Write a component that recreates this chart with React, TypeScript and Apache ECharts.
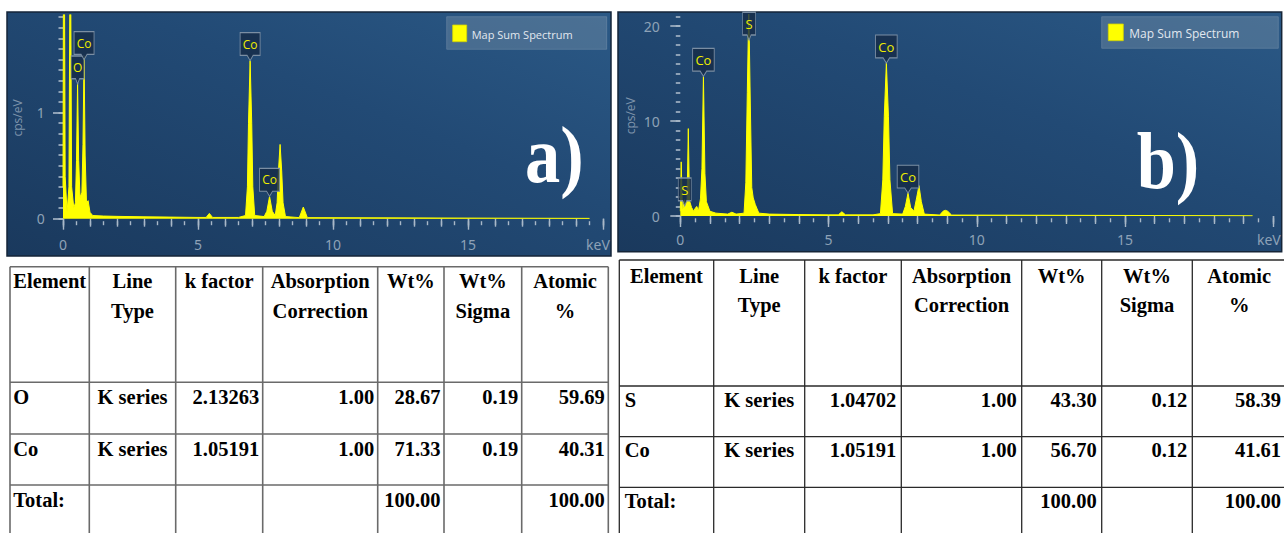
import React, { useEffect, useRef } from "react";
import * as echarts from "echarts";

// ---------- Spectrum (a) ----------
const energyA = [0, 0.03, 0.08, 0.15, 0.22, 0.27, 0.32, 0.4, 0.46, 0.5, 0.54, 0.58, 0.63, 0.7, 0.74, 0.78, 0.82, 0.87, 0.93, 1.0, 1.1, 1.5, 2, 3, 4, 5, 5.3, 5.42, 5.54, 6.5, 6.76, 6.83, 6.87, 6.93, 6.99, 7.03, 7.1, 7.45, 7.55, 7.65, 7.75, 7.86, 7.93, 7.98, 8.04, 8.1, 8.15, 8.24, 8.75, 8.9, 9.05, 12, 16, 19.5];
const countsA = [0.3, 4.0, 0.4, 0.06, 0.3, 3.0, 0.3, 0.1, 0.15, 0.55, 1.28, 0.55, 0.2, 0.25, 0.7, 1.53, 0.6, 0.15, 0.17, 0.06, 0.03, 0.025, 0.022, 0.018, 0.015, 0.012, 0.012, 0.05, 0.012, 0.012, 0.03, 0.3, 0.9, 1.49, 0.9, 0.3, 0.03, 0.02, 0.07, 0.21, 0.07, 0.03, 0.15, 0.45, 0.7, 0.45, 0.15, 0.02, 0.01, 0.11, 0.01, 0.008, 0.005, 0.003];

// ---------- Spectrum (b) ----------
const energyB = [0, 0.03, 0.07, 0.1, 0.14, 0.18, 0.23, 0.27, 0.31, 0.38, 0.45, 0.52, 0.56, 0.61, 0.68, 0.73, 0.78, 0.83, 0.88, 1.0, 1.2, 1.6, 1.74, 1.88, 2.15, 2.21, 2.26, 2.31, 2.36, 2.41, 2.46, 2.53, 2.65, 3, 4, 5, 5.33, 5.45, 5.57, 6.5, 6.75, 6.83, 6.88, 6.95, 7.02, 7.07, 7.16, 7.5, 7.59, 7.68, 7.77, 7.88, 7.97, 8.05, 8.13, 8.23, 8.75, 8.86, 8.94, 9.02, 9.15, 12, 16, 19.3];
const countsB = [0.5, 5.7, 0.8, 0.9, 1.7, 1.1, 1.8, 9.2, 1.6, 0.9, 0.5, 0.9, 1.0, 0.5, 1.8, 5.0, 14.7, 4.5, 1.5, 0.5, 0.3, 0.2, 0.4, 0.2, 0.3, 3.5, 13, 22, 12, 3, 1.9, 1.2, 0.3, 0.2, 0.15, 0.12, 0.12, 0.45, 0.12, 0.12, 0.25, 3.8, 10.5, 16.1, 10.5, 3.8, 0.25, 0.2, 1.0, 2.4, 0.9, 0.5, 1.9, 3.2, 1.5, 0.2, 0.1, 0.5, 0.6, 0.5, 0.1, 0.08, 0.05, 0.02];

// ---------- Peak callouts ----------
const calloutNamesA = ["O", "Co", "Co", "Co"];
const calloutEnergyA = [0.54, 0.78, 6.93, 7.65];
const calloutHeightA = [1.27, 1.5, 1.49, 0.21];

const calloutNamesB = ["S", "Co", "S", "Co", "Co"];
const calloutEnergyB = [0.15, 0.78, 2.32, 6.95, 7.68];
const calloutHeightB = [1.05, 14.7, 18.5, 16.1, 2.4];

// ---------- Axes ----------
const xMax = 20;
const yMaxA = 1.92;
const yMaxB = 21.2;
const yLabelValuesA = [0, 1];
const yLabelValuesB = [0, 10, 20];
const yMinorStepA = 0.1;
const yMinorStepB = 1;
const legendName = "Map Sum Spectrum";
const yAxisTitle = "cps/eV";
const xUnit = "keV";

// ---------- Tables ----------
const tableHeaders = [["Element"], ["Line", "Type"], ["k factor"], ["Absorption", "Correction"], ["Wt%"], ["Wt%", "Sigma"], ["Atomic", "%"]];
const tableRowsA = [
  ["O", "K series", "2.13263", "1.00", "28.67", "0.19", "59.69"],
  ["Co", "K series", "1.05191", "1.00", "71.33", "0.19", "40.31"],
  ["Total:", "", "", "", "100.00", "", "100.00"],
];
const tableRowsB = [
  ["S", "K series", "1.04702", "1.00", "43.30", "0.12", "58.39"],
  ["Co", "K series", "1.05191", "1.00", "56.70", "0.12", "41.61"],
  ["Total:", "", "", "", "100.00", "", "100.00"],
];

const AXIS_FONT = "Noto Sans";
const UI_FONT = "Open Sans";
const SERIF = "Liberation Serif";
const tickColor = "#a9b8c8";
const labelColor = "#8ea2b7";
const CALLOUT = "path://M0,0 L20,0 L20,22 L13,22 L10,27 L7,22 L0,22 Z";

function minorValues(step: number, max: number) {
  const out: number[] = [];
  for (let k = 0; k * step <= max + 1e-9; k++) out.push(Math.round(k * step * 1000) / 1000);
  return out;
}

function xAxes(gridIndex: number, offset: number, margin: number, fontSize: number, unitPad: number) {
  const base = { type: "value", gridIndex, min: 0, max: xMax, position: "bottom", offset, axisLine: { show: false }, splitLine: { show: false } };
  const ls = { color: tickColor, width: 1.4 };
  return [
    {
      ...base, interval: 5,
      axisTick: { show: true, length: 11, lineStyle: ls },
      axisLabel: {
        show: true, margin, color: labelColor, fontSize, fontFamily: AXIS_FONT,
        formatter: (v: number) => (v === xMax ? "{u|" + xUnit + "}" : String(v)),
        rich: { u: { color: labelColor, fontSize, fontFamily: AXIS_FONT, padding: [0, unitPad, 0, 0] } },
      },
    },
    { ...base, interval: 1, axisTick: { show: true, length: 8, lineStyle: ls }, axisLabel: { show: false } },
    { ...base, interval: 0.5, axisTick: { show: true, length: 4, lineStyle: ls }, axisLabel: { show: false } },
  ];
}

function yAxes(gridIndex: number, max: number, majors: number[], minors: number[], offset: number, fontSize: number) {
  const base = { type: "value", gridIndex, min: 0, max, position: "left", offset, axisLine: { show: false }, splitLine: { show: false } };
  const ls = { color: tickColor, width: 1.6 };
  return [
    {
      ...base,
      axisTick: { show: true, length: 10, customValues: majors, lineStyle: ls },
      axisLabel: { show: true, customValues: majors, margin: 12, color: labelColor, fontSize, fontFamily: AXIS_FONT },
    },
    { ...base, axisTick: { show: true, length: 4.5, customValues: minors, lineStyle: ls }, axisLabel: { show: false } },
  ];
}

function callouts(names: string[], energies: number[], heights: number[], wideW: number) {
  return names.map((n, i) => ({ name: n, coord: [energies[i], heights[i]], symbolSize: [n.length > 1 ? wideW : 13, 28] }));
}

function spectrumSeries(xi: number, yi: number, energy: number[], counts: number[], marks: any[], fontSize: number) {
  return {
    type: "line", xAxisIndex: xi, yAxisIndex: yi,
    data: energy.map((e, i) => [e, counts[i]]),
    symbol: "none", clip: true, z: 3,
    lineStyle: { color: "#ffff00", width: 1 },
    areaStyle: { color: "#ffff00", opacity: 1 },
    markPoint: {
      symbol: CALLOUT, symbolOffset: [0, "-50%"],
      itemStyle: { color: "rgba(22,44,72,0.82)", borderColor: "#7b8ea3", borderWidth: 1 },
      label: { show: true, position: "inside", offset: [0, -2.5], formatter: "{b}", color: "#eeee00", fontSize, fontFamily: UI_FONT },
      data: marks,
    },
  };
}

function txt(x: number, y: number, text: string, align: string, style: any, extra: any = {}) {
  return { type: "text", x, y, ...extra, style: { text, align, textAlign: align, verticalAlign: "middle", textVerticalAlign: "middle", ...style } };
}

function tableElements(cfg: any) {
  const els: any[] = [];
  const { cols, rowLines, bottom, headerY1, headerY2, rowY, rows, stroke, lw, fs, padL, padR, centerFirstHeader } = cfg;
  rowLines.forEach((y: number) => els.push({ type: "line", shape: { x1: cols[0], y1: y, x2: cols[cols.length - 1], y2: y }, style: { stroke, lineWidth: lw } }));
  cols.forEach((x: number) => els.push({ type: "line", shape: { x1: x, y1: rowLines[0], x2: x, y2: bottom }, style: { stroke, lineWidth: lw } }));
  const font = { fontSize: fs, fontWeight: "bold", fontFamily: SERIF, fill: "#000" };
  const off = 0.3375 * fs;
  tableHeaders.forEach((lines, c) => {
    const left = c === 0 && !centerFirstHeader;
    const x = left ? cols[0] + padL : (cols[c] + cols[c + 1]) / 2;
    lines.forEach((t, k) => els.push(txt(x, (k === 0 ? headerY1 : headerY2) - off, t, left ? "left" : "center", font)));
  });
  rows.forEach((row: string[], r: number) =>
    row.forEach((t, c) => {
      if (!t) return;
      const align = c === 0 ? "left" : c === 1 ? "center" : "right";
      const x = c === 0 ? cols[0] + padL : c === 1 ? (cols[1] + cols[2]) / 2 : cols[c + 1] - padR;
      els.push(txt(x, rowY[r] - off, t, align, font));
    })
  );
  return els;
}

function panelElements(p: any) {
  const grad = new echarts.graphic.LinearGradient(0, 1, 1, 0, [
    { offset: 0, color: "#1a395d" },
    { offset: 0.6, color: "#224a75" },
    { offset: 1, color: "#2b5986" },
  ]);
  return [
    { type: "rect", z: -10, shape: { x: p.x, y: p.y, width: p.w, height: p.h }, style: { fill: grad, stroke: "#152538", lineWidth: 1.5 } },
    { type: "rect", z: 1, shape: { x: p.lx, y: p.ly, width: p.lw, height: p.lh }, style: { fill: "rgba(120,145,170,0.42)", stroke: "rgba(150,170,190,0.35)", lineWidth: 1 } },
    { type: "rect", z: 2, shape: { x: p.sx, y: p.sy, width: p.sw, height: p.sh }, style: { fill: "#ffff00", stroke: "#d4d400", lineWidth: 0.8 } },
    txt(p.tx, p.ty, legendName, "left", { fill: "#e2e8ef", fontSize: p.fs, fontFamily: UI_FONT }, { z: 2 }),
    txt(p.nx, p.ny, yAxisTitle, "center", { fill: "#7d93ab", fontSize: 12, fontFamily: UI_FONT }, { rotation: Math.PI / 2, z: 2 }),
    txt(p.px, p.py, p.panel, "left", { fill: "#ffffff", fontSize: 80, fontWeight: "bold", fontFamily: SERIF }, { scaleX: 0.88, z: 2 }),
  ];
}

function buildOption() {
  const graphics = [
    ...panelElements({ x: 7, y: 12, w: 604, h: 244, lx: 446.7, ly: 16.7, lw: 160, lh: 32.6, sx: 452.7, sy: 25, sw: 14, sh: 16.7, tx: 471.7, ty: 34, fs: 11, nx: 17.8, ny: 118, px: 525, py: 182 - 27, panel: "a)" }),
    ...panelElements({ x: 618, y: 12, w: 663.7, h: 239.7, lx: 1101.7, ly: 16.7, lw: 176.6, lh: 31.6, sx: 1108.3, sy: 24, sw: 15, sh: 16.7, tx: 1129.3, ty: 33.3, fs: 12, nx: 630.7, ny: 115.8, px: 1136.7, py: 188.3 - 27, panel: "b)" }),
    ...tableElements({ cols: [10, 89.3, 175.7, 262.7, 377.7, 444, 521.7, 608.3], rowLines: [266.7, 382.3, 434, 485], bottom: 540, headerY1: 288.3, headerY2: 317.7, rowY: [404, 455.7, 507.3], rows: tableRowsA, stroke: "#6a6a6a", lw: 1.6, fs: 20.5, padL: 3.3, padR: 3.5, centerFirstHeader: false }),
    ...tableElements({ cols: [619.3, 713.7, 804.7, 901.3, 1021.7, 1101.7, 1192.3, 1286], rowLines: [260, 386, 436.7, 487.3], bottom: 540, headerY1: 283.3, headerY2: 311.7, rowY: [406.7, 456.7, 508.3], rows: tableRowsB, stroke: "#2a2a2a", lw: 1.3, fs: 20.5, padL: 5.4, padR: 5, centerFirstHeader: true }),
  ];

  return {
    animation: false,
    backgroundColor: "#ffffff",
    grid: [
      { left: 63, top: 15, width: 540, height: 203.7 },
      { left: 680.3, top: 14.6, width: 593, height: 201.4 },
    ],
    xAxis: [...xAxes(0, 2.5, 16, 14, 10), ...xAxes(1, 2.3, 14, 14, 9)],
    yAxis: [
      ...yAxes(0, yMaxA, yLabelValuesA, minorValues(yMinorStepA, 1.9), 6.3, 14),
      ...yAxes(1, yMaxB, yLabelValuesB, minorValues(yMinorStepB, 21), 8.6, 14),
    ],
    series: [
      spectrumSeries(0, 0, energyA, countsA, callouts(calloutNamesA, calloutEnergyA, calloutHeightA, 20), 12),
      spectrumSeries(3, 2, energyB, countsB, callouts(calloutNamesB, calloutEnergyB, calloutHeightB, 21.6), 13),
    ],
    graphic: { elements: graphics },
  };
}

export default function App() {
  const ref = useRef<HTMLDivElement>(null);
  useEffect(() => {
    const chart = echarts.init(ref.current!, null, { renderer: "svg" });
    chart.setOption(buildOption() as any);
    return () => chart.dispose();
  }, []);
  return <div ref={ref} style={{ position: "absolute", left: 0, top: 0, width: 1284, height: 533, background: "#fff" }} />;
}
